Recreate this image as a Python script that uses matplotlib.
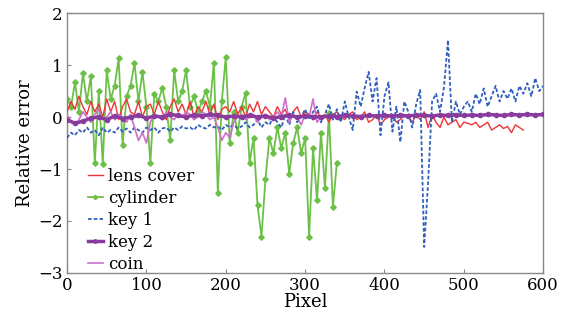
import numpy as np
import matplotlib
matplotlib.use("Agg")
import matplotlib.pyplot as plt

plt.rcParams['font.family'] = ['DejaVu Serif']
plt.rcParams['mathtext.fontset'] = 'dejavuserif'

# lens cover (step 5, x = 0..575)
lens_x = np.arange(0, 580, 5)
lens_y = [0.1, 0.3, 0.15, 0.4, 0.2, 0.05, 0.3, 0.1, 0.25, 0.0, 0.35,
          0.1, 0.3, -0.05, 0.2, 0.35, 0.1, 0.05, 0.3, 0.0, 0.2,
          0.25, 0.05, 0.3, 0.1, -0.05, 0.2, 0.35, 0.1, 0.25, 0.05,
          0.3, 0.0, 0.2, 0.1, 0.3, 0.05, 0.25, -0.05, 0.15, 0.2,
          0.1, 0.3, 0.05, 0.2, 0.0, 0.25, 0.1, 0.3, 0.05, 0.2,
          0.1, 0.0, 0.2, 0.05, 0.15, -0.05, 0.1, 0.2, 0.0, 0.1,
          0.05, -0.05, 0.1, 0.0, 0.05, -0.1, 0.05, 0.1, 0.0, -0.05,
          0.05, 0.1, -0.05, 0.0, 0.1, -0.1, -0.05, 0.05, -0.15, -0.05,
          0.0, 0.05, -0.1, -0.05, 0.05, 0.0, -0.1, 0.05, -0.05, 0.1,
          -0.2, 0.05, -0.1, -0.2, 0.0, -0.15, -0.1, -0.05, -0.2, -0.1,
          -0.12, -0.15, -0.1, -0.2, -0.15, -0.1, -0.25, -0.2, -0.15, -0.22,
          -0.18, -0.3, -0.15, -0.2, -0.25]

# cylinder (step 5, x = 0..340)
cyl_x = np.arange(0, 345, 5)
cyl_y = [0.35, 0.2, 0.67, 0.1, 0.85, 0.3, 0.79, -0.88, 0.5, -0.9, 0.9,
         0.35, 0.6, 1.13, -0.54, 0.4, 0.6, 1.04, 0.3, 0.87, 0.2,
         -0.88, 0.45, 0.3, 0.56, 0.2, -0.44, 0.9, 0.3, 0.5, 0.9,
         0.2, 0.4, 0.1, 0.3, 0.5, 0.2, 1.04, -1.46, 0.3, 1.16,
         -0.5, 0.1, -0.3, 0.2, 0.46, -0.88, -0.4, -1.7, -2.3, -1.2,
         -0.4, -0.7, -0.2, -0.6, -0.3, -1.1, -0.5, -0.2, -0.7, -0.4,
         -2.3, -0.6, -1.6, -0.3, -1.37, 0.07, -1.73, -0.88]

# key 1 (step 5, x = 0..600)
key1_x = np.arange(0, 605, 5)
key1_y = [-0.4, -0.3, -0.35, -0.25, -0.3, -0.2, -0.3, -0.25, -0.35, -0.2, -0.3,
          -0.25, -0.3, -0.2, -0.28, -0.22, -0.3, -0.2, -0.25, -0.3, -0.2,
          -0.25, -0.2, -0.3, -0.22, -0.2, -0.28, -0.2, -0.25, -0.18, -0.22,
          -0.2, -0.25, -0.15, -0.2, -0.22, -0.15, -0.2, -0.18, -0.25, -0.15,
          -0.2, -0.15, -0.22, -0.18, -0.1, -0.2, -0.15, -0.05, -0.2, -0.1,
          -0.15, 0.0, -0.1, -0.2, 0.05, -0.15, 0.1, -0.1, 0.0, 0.15,
          -0.05, 0.1, 0.2, -0.1, 0.05, 0.25, -0.05, 0.15, -0.1, 0.3,
          0.0, -0.25, 0.49, 0.2, 0.56, 0.87, 0.3, 0.75, -0.35, 0.4,
          0.67, -0.28, 0.2, -0.48, 0.3, 0.1, -0.2, 0.25, 0.52, -2.5,
          -1.25, 0.3, 0.45, 0.1, 0.58, 1.48, -0.1, 0.3, 0.05, 0.2,
          0.3, 0.1, 0.45, 0.25, 0.55, 0.2, 0.4, 0.6, 0.3, 0.5,
          0.35, 0.55, 0.3, 0.6, 0.45, 0.65, 0.4, 0.75, 0.5, 0.6]

# key 2 (step 10, x = 0..600)
key2_x = np.arange(0, 610, 10)
key2_y = [-0.05, -0.12, -0.08, -0.02, 0.0, -0.05, 0.02, -0.03, 0.0, 0.03, -0.02,
          0.02, 0.0, 0.05, 0.03, 0.0, 0.04, 0.02, 0.05, 0.03, 0.0,
          0.02, 0.0, 0.03, 0.0, 0.02, -0.02, 0.01, 0.03, 0.0, 0.02,
          0.01, 0.0, 0.02, 0.01, 0.03, 0.02, 0.01, 0.03, 0.02, 0.03,
          0.02, 0.03, 0.02, 0.04, 0.03, 0.02, 0.04, 0.03, 0.04, 0.03,
          0.04, 0.03, 0.05, 0.04, 0.03, 0.05, 0.04, 0.05, 0.04, 0.05]

# coin (step 5, x = 0..320)
coin_x = np.arange(0, 325, 5)
coin_y = [0.05, -0.1, -0.15, -0.05, 0.1, 0.0, -0.1, 0.05, 0.15, -0.05, 0.0,
          0.1, -0.05, 0.05, 0.0, -0.1, 0.05, -0.2, -0.45, -0.3, -0.5,
          -0.1, 0.05, 0.0, -0.05, 0.1, 0.0, -0.05, 0.05, 0.0, 0.1,
          0.05, -0.05, 0.0, 0.1, 0.05, -0.05, 0.0, -0.2, -0.45, -0.3,
          -0.4, -0.1, 0.0, 0.05, -0.05, 0.0, 0.05, -0.1, 0.0, 0.05,
          -0.05, 0.0, 0.1, 0.0, 0.37, -0.1, 0.05, 0.0, -0.15, 0.05,
          0.0, 0.35, -0.1, 0.0]

fig = plt.figure(figsize=(5.73, 3.2), dpi=100)
ax = fig.add_axes([0.117, 0.147, 0.831, 0.812])

ax.plot(lens_x, lens_y, '-', color='#EE3535', lw=1.0, label='lens cover', zorder=3)
ax.plot(cyl_x, cyl_y, '-', color='#6CC048', lw=1.3, marker='D', ms=2.8,
        label='cylinder', zorder=2)
ax.plot(key1_x, key1_y, '--', color='#3060BC', lw=1.3, dashes=(2, 1.2),
        label='key 1', zorder=4)
ax.plot(key2_x, key2_y, '-', color='#8A3C9E', lw=2.5, marker='o', ms=3,
        label='key 2', zorder=5)
ax.plot(coin_x, coin_y, '-', color='#CC70CC', lw=1.2, label='coin', zorder=4)

ax.set_xlim(0, 600)
ax.set_ylim(-3, 2)
ax.set_xticks([0, 100, 200, 300, 400, 500, 600])
ax.set_yticks([-3, -2, -1, 0, 1, 2])
ax.tick_params(direction='in', length=3, width=0.8, color='#888888', labelsize=12,
               pad=3)
for s in ax.spines.values():
    s.set_color('#888888')
    s.set_linewidth(1.0)
ax.set_xlabel('Pixel', fontsize=13, labelpad=-1)
ax.set_ylabel('Relative error', fontsize=13, labelpad=3)

ax.legend(loc='upper left', bbox_to_anchor=(0.03, 0.43), frameon=False,
          fontsize=12, handlelength=0.9, handletextpad=0.3, labelspacing=0.3,
          borderaxespad=0, markerscale=0.8)

fig.savefig('out.png', dpi=100)
